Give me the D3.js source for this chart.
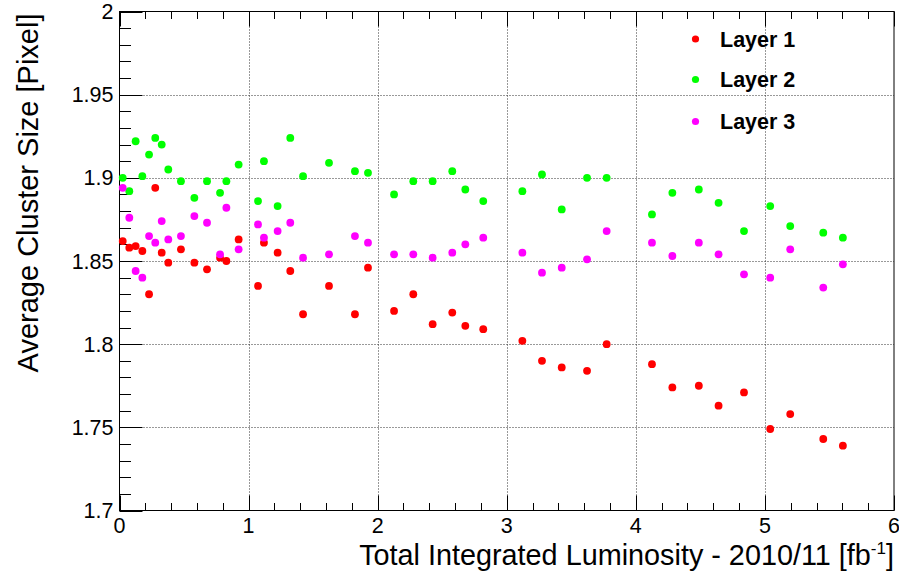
<!DOCTYPE html>
<html>
<head>
<meta charset="utf-8">
<script src="https://cdn.jsdelivr.net/npm/d3@7/dist/d3.min.js"></script>
<style>
  html, body { margin: 0; padding: 0; background: #fff; }
  svg { display: block; font-family: "Liberation Sans", Arial, Helvetica, sans-serif; }
</style>
</head>
<body>
<svg id="chart" width="899" height="576"></svg>
<script>
// Integrated luminosity at each measurement (fb^-1)
const lumi = [0.025, 0.076, 0.125, 0.177, 0.229, 0.277, 0.327, 0.378, 0.476, 0.580,
              0.678, 0.779, 0.828, 0.923, 1.073, 1.119, 1.225, 1.323, 1.422, 1.623,
              1.824, 1.925, 2.127, 2.276, 2.426, 2.578, 2.679, 2.818, 3.121, 3.273,
              3.426, 3.622, 3.774, 4.125, 4.283, 4.488, 4.641, 4.838, 5.041, 5.196,
              5.452, 5.604];

// Average cluster size per layer (pixels)
const layer1 = [1.862, 1.858, 1.859, 1.856, 1.830, 1.894, 1.855, 1.849, 1.857, 1.849,
                1.845, 1.852, 1.850, 1.863, 1.835, 1.861, 1.855, 1.844, 1.818, 1.835,
                1.818, 1.846, 1.820, 1.830, 1.812, 1.819, 1.811, 1.809, 1.802, 1.790,
                1.786, 1.784, 1.800, 1.788, 1.774, 1.775, 1.763, 1.771, 1.749, 1.758,
                1.743, 1.739];
const layer2 = [1.900, 1.892, 1.922, 1.901, 1.914, 1.924, 1.920, 1.905, 1.898, 1.888,
                1.898, 1.891, 1.898, 1.908, 1.886, 1.910, 1.883, 1.924, 1.901, 1.909,
                1.904, 1.903, 1.890, 1.898, 1.898, 1.904, 1.893, 1.886, 1.892, 1.902,
                1.881, 1.900, 1.900, 1.878, 1.891, 1.893, 1.885, 1.868, 1.883, 1.871,
                1.867, 1.864];
const layer3 = [1.894, 1.876, 1.844, 1.840, 1.865, 1.861, 1.874, 1.863, 1.865, 1.877,
                1.873, 1.854, 1.882, 1.857, 1.872, 1.864, 1.868, 1.873, 1.852, 1.854,
                1.865, 1.861, 1.854, 1.854, 1.852, 1.855, 1.860, 1.864, 1.855, 1.843,
                1.846, 1.851, 1.868, 1.861, 1.853, 1.861, 1.854, 1.842, 1.840, 1.857,
                1.834, 1.848];

const seriesNames = ["Layer 1", "Layer 2", "Layer 3"];
const seriesColors = ["#ff0000", "#00ff00", "#ff00ff"];

// Axis ticks and their labels
const xTicks = [0, 1, 2, 3, 4, 5, 6];
const xTickLabels = ["0", "1", "2", "3", "4", "5", "6"];
const yTicks = [1.7, 1.75, 1.8, 1.85, 1.9, 1.95, 2.0];
const yTickLabels = ["1.7", "1.75", "1.8", "1.85", "1.9", "1.95", "2"];

const svg = d3.select("#chart");
const plot = { left: 119.5, right: 894, top: 11.5, bottom: 510.5 };

const x = d3.scaleLinear().domain([0, 6]).range([plot.left, plot.right]);
const y = d3.scaleLinear().domain([1.7, 2.0]).range([plot.bottom, plot.top]);

// Dotted grid at the major ticks
const grid = svg.append("g").attr("stroke", "#333").attr("stroke-width", 1)
  .attr("stroke-dasharray", "1,2").attr("fill", "none");
xTicks.slice(1, -1).forEach(v => {
  grid.append("line").attr("x1", Math.round(x(v)) + 0.5).attr("x2", Math.round(x(v)) + 0.5)
    .attr("y1", plot.top).attr("y2", plot.bottom);
});
yTicks.slice(1, -1).forEach(v => {
  grid.append("line").attr("x1", plot.left).attr("x2", plot.right)
    .attr("y1", Math.round(y(v)) + 0.5).attr("y2", Math.round(y(v)) + 0.5);
});

// Frame
svg.append("rect")
  .attr("x", plot.left).attr("y", plot.top)
  .attr("width", plot.right - plot.left).attr("height", plot.bottom - plot.top)
  .attr("fill", "none").attr("stroke", "#000").attr("stroke-width", 1);

// Ticks: x on bottom and top, y on the left
const ticks = svg.append("g").attr("stroke", "#000").attr("stroke-width", 1);
const xMinor = d3.range(0, 6.0001, 0.2);
xMinor.forEach(v => {
  const major = Math.abs(v - Math.round(v)) < 1e-6;
  const len = major ? 15 : 7.5;
  const px = Math.round(x(v)) + 0.5;
  ticks.append("line").attr("x1", px).attr("x2", px)
    .attr("y1", plot.bottom).attr("y2", plot.bottom - len);
  ticks.append("line").attr("x1", px).attr("x2", px)
    .attr("y1", plot.top).attr("y2", plot.top + len);
});
const yMinor = d3.range(1.7, 2.0001, 0.01);
yMinor.forEach(v => {
  const k = Math.round(v * 100);
  const major = k % 5 === 0;
  const len = major ? 23 : 11.5;
  const py = Math.round(y(v)) + 0.5;
  ticks.append("line").attr("x1", plot.left).attr("x2", plot.left + len)
    .attr("y1", py).attr("y2", py);
});

// Tick labels
const labels = svg.append("g").attr("fill", "#000").attr("font-size", 21.5);
xTicks.forEach((v, i) => {
  labels.append("text").attr("x", x(v)).attr("y", plot.bottom + 22)
    .attr("text-anchor", "middle").text(xTickLabels[i]);
});
yTicks.forEach((v, i) => {
  labels.append("text").attr("x", plot.left - 6).attr("y", y(v) + 7.5)
    .attr("text-anchor", "end").text(yTickLabels[i]);
});

// Axis titles
const xTitle = svg.append("text").attr("x", plot.right).attr("y", 565)
  .attr("text-anchor", "end").attr("font-size", 28.8).attr("fill", "#000");
xTitle.append("tspan").text("Total Integrated Luminosity - 2010/11 [fb");
xTitle.append("tspan").attr("font-size", 17).attr("dy", -11).text("-1");
xTitle.append("tspan").attr("dy", 11).text("]");

svg.append("text")
  .attr("transform", `translate(38, ${plot.top + 2}) rotate(-90)`)
  .attr("text-anchor", "end").attr("font-size", 29).attr("fill", "#000")
  .text("Average Cluster Size [Pixel]");

// Data points
[layer1, layer2, layer3].forEach((vals, s) => {
  svg.append("g").attr("fill", seriesColors[s])
    .selectAll("circle").data(vals).join("circle")
    .attr("cx", (d, i) => x(lumi[i]))
    .attr("cy", d => y(d))
    .attr("r", 3.9);
});

// Legend
const legend = svg.append("g");
const legendY = [39, 79.5, 121.5];
seriesNames.forEach((name, i) => {
  legend.append("circle").attr("cx", 695.5).attr("cy", legendY[i]).attr("r", 3.6)
    .attr("fill", seriesColors[i]);
  legend.append("text").attr("x", 720).attr("y", legendY[i] + 7.5)
    .attr("font-size", 21.5).attr("font-weight", "bold").attr("fill", "#000")
    .text(name);
});
</script>
</body>
</html>
